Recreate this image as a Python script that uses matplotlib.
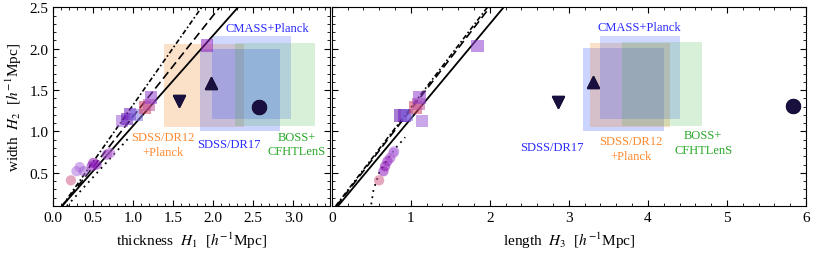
import matplotlib
matplotlib.use("Agg")
import matplotlib.pyplot as plt
from matplotlib.patches import Rectangle
from matplotlib.ticker import MultipleLocator

plt.rcParams['font.family'] = ['Liberation Serif', 'DejaVu Serif']
plt.rcParams['mathtext.fontset'] = 'stix'

# observational boxes: (x0, x1, y0, y1)
boxes_left = {
    "DR12": (1.38, 2.38, 1.06, 2.06),
    "DR17": (1.83, 2.83, 1.01, 2.00),
    "CMASS": (1.98, 2.97, 1.15, 2.15),
    "BOSS": (2.27, 3.27, 1.07, 2.07),
}
boxes_right = {
    "DR17": (3.18, 4.20, 1.01, 2.01),
    "DR12": (3.27, 4.28, 1.06, 2.07),
    "CMASS": (3.39, 4.41, 1.15, 2.15),
    "BOSS": (3.67, 4.68, 1.07, 2.08),
}
box_colors = {"DR12": ("#f58a2a", 0.25), "DR17": ("#3050ff", 0.25),
              "CMASS": ("#3050ff", 0.22), "BOSS": ("#40b040", 0.2)}

# black markers (down-triangle, up-triangle, circle)
obs_left_x = [1.575, 1.97, 2.57]
obs_left_y = [1.37, 1.59, 1.30]
obs_right_x = [2.86, 3.31, 5.84]
obs_right_y = [1.356, 1.60, 1.307]
obs_markers = ["v", "^", "o"]

# simulation points
circ_left_x = [0.22, 0.29, 0.33, 0.38, 0.48, 0.50, 0.54, 0.67, 0.71]
circ_left_y = [0.41, 0.52, 0.57, 0.52, 0.58, 0.62, 0.60, 0.72, 0.74]
circ_right_x = [0.60, 0.655, 0.675, 0.705, 0.74, 0.78, 0.79]
circ_right_y = [0.41, 0.52, 0.58, 0.64, 0.68, 0.74, 0.76]
circ_left_c = ["#d0608a", "#b070e0", "#b070e0", "#a060d0", "#9020c0", "#8a10b0", "#9020c0", "#a040c8", "#b060d0"]
circ_right_c = ["#d0608a", "#9020c0", "#8a10b0", "#9020c0", "#a040c8", "#b060d0", "#b070e0"]

sq_left_x = [0.86, 0.92, 0.96, 1.04, 1.15, 1.20, 1.22, 1.92]
sq_left_y = [1.13, 1.15, 1.21, 1.20, 1.29, 1.32, 1.41, 2.04]
sq_right_x = [1.14, 0.87, 0.92, 0.95, 1.06, 1.10, 1.11, 1.845]
sq_right_y = [1.13, 1.195, 1.195, 1.20, 1.29, 1.33, 1.41, 2.035]
sq_left_c = ["#a060d8", "#6010b0", "#7020c0", "#8070e0", "#d04060", "#c050a0", "#9040d0", "#9020c0"]
sq_right_c = ["#a060d8", "#6010b0", "#7020c0", "#8070e0", "#d04060", "#c050a0", "#9040d0", "#9040d0"]

# model lines (x, y)
solid_left = ([0.11, 2.31], [0.10, 2.5])
dashed_left = ([0.11, 2.08], [0.10, 2.5])
dashdot_left = ([0.11, 1.855], [0.10, 2.5])
dotted_left = ([0.17, 0.96], [0.10, 0.94])
solid_right = ([0.08, 2.175], [0.10, 2.5])
dashed_right = ([0.06, 2.0], [0.10, 2.5])
dashdot_right = ([0.05, 1.97], [0.10, 2.5])
dotted_right = ([0.50, 0.53, 0.60, 0.70, 0.80, 0.93], [0.12, 0.30, 0.50, 0.66, 0.79, 0.93])

fig = plt.figure(figsize=(8.14, 2.55), dpi=100)
ax1 = fig.add_axes([53.3 / 814, 48 / 255, (330 - 53.3) / 814, 198.7 / 255])
ax2 = fig.add_axes([331.7 / 814, 48 / 255, (806 - 331.7) / 814, 198.7 / 255])


def draw(ax, boxes, order, lines, circ, sq, obs):
    for k in order:
        x0, x1, y0, y1 = boxes[k]
        c, a = box_colors[k]
        ax.add_patch(Rectangle((x0, y0), x1 - x0, y1 - y0, facecolor=c, alpha=a,
                               edgecolor="none", zorder=1))
    solid, dashed, dashdot, dotted = lines
    ax.plot(*solid, color="k", lw=1.3, zorder=3)
    ax.plot(*dashed, color="k", lw=1.2, ls=(0, (5, 2.5)), zorder=3)
    ax.plot(*dashdot, color="k", lw=1.2, ls=(0, (3, 1.5, 1, 1.5)), zorder=3)
    ax.plot(*dotted, color="k", lw=1.3, ls=(0, (1, 2.5)), zorder=3)
    ax.scatter(circ[0], circ[1], s=55, c=circ[2], alpha=0.55, edgecolors="none", zorder=4)
    ax.scatter(sq[0], sq[1], s=80, marker="s", c=sq[2], alpha=0.55, edgecolors="none", zorder=4)
    for x, y, m in zip(obs[0], obs[1], obs_markers):
        ax.plot(x, y, marker=m, color="k", ms=9 if m != "o" else 10, zorder=5, ls="none")
        ax.plot(x, y, marker=m, color="#1a1040", ms=9 if m != "o" else 10, zorder=5, ls="none")


draw(ax1, boxes_left, ["DR12", "DR17", "CMASS", "BOSS"],
     (solid_left, dashed_left, dashdot_left, dotted_left),
     (circ_left_x, circ_left_y, circ_left_c), (sq_left_x, sq_left_y, sq_left_c),
     (obs_left_x, obs_left_y))
draw(ax2, boxes_right, ["DR17", "DR12", "CMASS", "BOSS"],
     (solid_right, dashed_right, dashdot_right, dotted_right),
     (circ_right_x, circ_right_y, circ_right_c), (sq_right_x, sq_right_y, sq_right_c),
     (obs_right_x, obs_right_y))

fs = 9
ax1.text(2.67, 2.245, "CMASS+Planck", color="#2a2aff", ha="center", va="center", fontsize=fs)
ax1.text(1.375, 0.843, "SDSS/DR12\n+Planck", color="#ff8a30", ha="center", va="center", fontsize=fs, linespacing=1.3)
ax1.text(2.2, 0.843, "SDSS/DR17", color="#2a2aff", ha="center", va="center", fontsize=fs)
ax1.text(3.04, 0.85, "BOSS+\nCFHTLenS", color="#28a828", ha="center", va="center", fontsize=fs, linespacing=1.3)

ax2.text(3.895, 2.258, "CMASS+Planck", color="#2a2aff", ha="center", va="center", fontsize=fs)
ax2.text(2.79, 0.81, "SDSS/DR17", color="#2a2aff", ha="center", va="center", fontsize=fs)
ax2.text(3.79, 0.794, "SDSS/DR12\n+Planck", color="#ff8a30", ha="center", va="center", fontsize=fs, linespacing=1.3)
ax2.text(4.70, 0.864, "BOSS+\nCFHTLenS", color="#28a828", ha="center", va="center", fontsize=fs, linespacing=1.3)

ax1.set_xlim(0, 3.46)
ax2.set_xlim(0, 6.0)
for ax in (ax1, ax2):
    ax.set_ylim(0.1, 2.5)
    ax.tick_params(which="both", direction="in", top=True, right=True, labelsize=11)
    ax.tick_params(which="major", length=4)
    ax.tick_params(which="minor", length=2)
    ax.yaxis.set_major_locator(MultipleLocator(0.5))
    ax.yaxis.set_minor_locator(MultipleLocator(0.1))
ax1.xaxis.set_major_locator(MultipleLocator(0.5))
ax1.xaxis.set_minor_locator(MultipleLocator(0.1))
ax1.xaxis.set_major_formatter(matplotlib.ticker.FormatStrFormatter("%.1f"))
ax1.yaxis.set_major_formatter(matplotlib.ticker.FormatStrFormatter("%.1f"))
ax2.xaxis.set_major_locator(MultipleLocator(1))
ax2.xaxis.set_minor_locator(MultipleLocator(0.2))
ax2.tick_params(labelleft=False)

ax1.set_xlabel(r"thickness  $H_1$  [$h^{-1}$Mpc]", fontsize=11)
ax1.set_ylabel(r"width  $H_2$  [$h^{-1}$Mpc]", fontsize=11)
ax2.set_xlabel(r"length  $H_3$  [$h^{-1}$Mpc]", fontsize=11)

fig.savefig("out.png", dpi=100)
